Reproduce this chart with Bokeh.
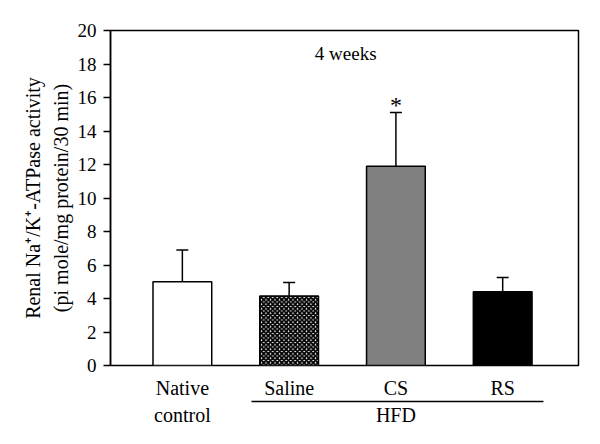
from bokeh.plotting import figure
from bokeh.models import Range1d, FixedTicker, Whisker, TeeHead, Label, LinearAxis, ColumnDataSource
from bokeh.embed import file_html
from bokeh.resources import INLINE

groups = ["Native", "Saline", "CS", "RS"]
groups_line2 = {1: "control", 3: "HFD"}
values = [5.0, 4.15, 11.9, 4.4]
errors = [1.9, 0.8, 3.2, 0.85]
colors = ["white", "white", "#808080", "black"]
hatches = [" ", "diagonal_cross", " ", " "]
y_ticks = list(range(0, 21, 2))
hfd_span = (1.65, 4.38)
panel_title = "4 weeks"

FONT = "Liberation Serif"
xs = [i + 1 for i in range(len(groups))]
upper = [v + e for v, e in zip(values, errors)]

p = figure(width=584, height=428, output_backend="svg", toolbar_location=None,
           x_range=Range1d(0.327, 4.71), y_range=Range1d(0, 20),
           min_border_left=110, min_border_right=6, min_border_top=30, min_border_bottom=40)
p.outline_line_color = "black"
p.outline_line_width = 1.5
p.xgrid.visible = False
p.ygrid.visible = False
p.background_fill_color = "white"

ax = p.yaxis[0]
ax.ticker = FixedTicker(ticks=y_ticks)
ax.minor_tick_line_color = None
ax.major_tick_in = 0
ax.major_tick_out = 7
ax.major_tick_line_width = 1.5
ax.axis_line_width = 1.5
ax.major_label_text_font = FONT
ax.major_label_text_font_size = "19px"
ax.major_label_text_color = "black"
ax.major_label_standoff = 7
ax.axis_label = "Renal Na\u207a/K\u207a-ATPase activity\n(pi mole/mg protein/30 min)"
ax.axis_label_text_font = FONT
ax.axis_label_text_font_style = "normal"
ax.axis_label_text_font_size = "20px"
ax.axis_label_text_color = "black"
ax.axis_label_text_line_height = 1.25
ax.axis_label_standoff = 3

# category labels (inner x axis)
xa = p.xaxis[0]
xa.ticker = FixedTicker(ticks=xs)
xa.major_label_overrides = {x: g for x, g in zip(xs, groups)}
xa.axis_line_color = None
xa.major_tick_line_color = None
xa.major_tick_out = 0
xa.major_tick_in = 0
xa.minor_tick_line_color = None
xa.major_label_standoff = 11
xa.major_label_text_font = FONT
xa.major_label_text_font_size = "20px"
xa.major_label_text_color = "black"

# HFD underline
xb = LinearAxis(ticker=FixedTicker(ticks=[]), bounds=hfd_span, axis_line_color="black",
                axis_line_width=1.5, major_tick_out=0, major_tick_in=0, major_label_standoff=0,
                minor_tick_line_color=None, major_tick_line_color=None)
p.add_layout(xb, "below")

# second label row
xc = LinearAxis(ticker=FixedTicker(ticks=list(groups_line2.keys())),
                major_label_overrides=groups_line2, axis_line_color=None,
                major_tick_out=0, major_tick_in=0, major_tick_line_color=None,
                minor_tick_line_color=None, major_label_standoff=2,
                major_label_text_font=FONT, major_label_text_font_size="20px",
                major_label_text_color="black")
p.add_layout(xc, "below")

src = ColumnDataSource(dict(x=xs, top=values, upper=upper, color=colors, hatch=hatches))
p.vbar(x="x", top="top", bottom=0, width=0.55, source=src, fill_color="color",
       line_color="black", line_width=1.5, hatch_pattern="hatch", hatch_color="black",
       hatch_scale=4.5, hatch_weight=2)

wk = Whisker(base="x", lower="top", upper="upper", source=src, dimension="height",
             line_color="black", line_width=1.5,
             upper_head=TeeHead(size=12, line_width=1.5, line_color="black"), lower_head=None)
p.add_layout(wk)

p.add_layout(Label(x=2.53, y=18.63, text=panel_title, text_align="center", text_baseline="middle",
                   text_font=FONT, text_font_size="19px", text_color="black"))
p.add_layout(Label(x=3, y=upper[2] + 0.45, text="*", text_align="center", text_baseline="middle",
                   text_font=FONT, text_font_size="24px", text_color="black"))

open("out.html", "w").write(file_html(p, INLINE))
